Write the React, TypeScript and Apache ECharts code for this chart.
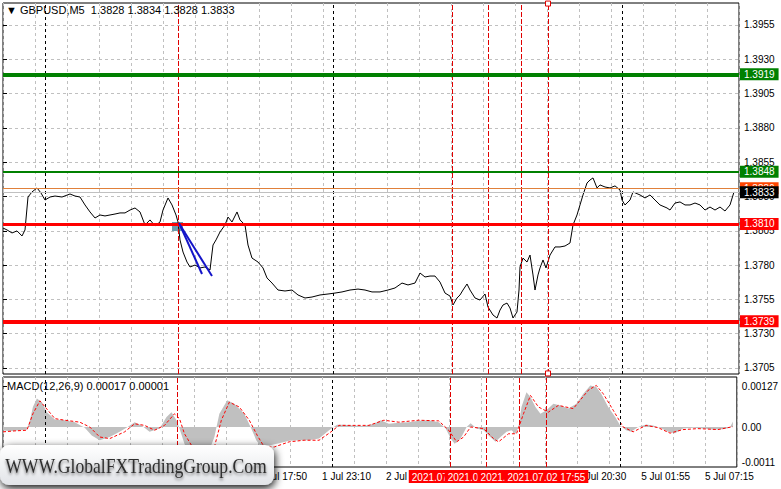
import React, { useEffect, useRef } from "react";
import * as echarts from "echarts";

const symbolTitle = "▼ GBPUSD,M5  1.3828 1.3834 1.3828 1.3833";
const macdTitle = "MACD(12,26,9) 0.00017 0.00001";
const watermarkText = "WWW.GlobalFXTradingGroup.Com";

const priceTicks = [1.3705, 1.373, 1.3755, 1.378, 1.3805, 1.383, 1.3855, 1.388, 1.3905, 1.393, 1.3955];
const macdTicks = [-0.0011, 0, 0.00127];
const macdTickLabels = ["-0.0011", "0.00", "0.00127"];
// one label every 64 M5 bars, starting at bar 0
const timeTickLabels = [
  "30 Jun 20:30", "1 Jul 01:50", "1 Jul 07:10", "1 Jul 12:30", "1 Jul 17:50", "1 Jul 23:10",
  "2 Jul 04:30", "2 Jul 09:50", "2 Jul 15:10", "2 Jul 20:30", "5 Jul 01:55", "5 Jul 07:15",
];

const firstBar = 0;
const lastBar = 736;
const priceMin = 1.37006;
const priceMax = 1.3971;
const levelPrices = [1.3919, 1.3848, 1.3836, 1.3833, 1.381, 1.3739];
const daySeparatorBars = [42, 330, 619];
const redLineBars = [175, 449, 485, 518, 545];
const redLineLabels = ["2021.07.01 11:05", "2021.07.02 09:55", "2021.07.02 12:55", "2021.07.02 15:40", "2021.07.02 17:55"];
const selectedLineBar = 545;
const trendLines: [number, number][][] = [
  [[176, 1.38107], [199, 1.37735]],
  [[177, 1.38092], [209, 1.3772]],
];
const markedZone: [number, number][] = [[169, 1.38114], [180, 1.38048]];

// [bar index, close]
const price: [number, number][] = [
  [0,1.3807],[4,1.38056],[9,1.38034],[14,1.38049],[19,1.38012],[22,1.38056],[25,1.38296],[29,1.38333],[34,1.38362],[38,1.38325],
  [42,1.38274],[47,1.38296],[52,1.38303],[59,1.38296],[67,1.38318],[72,1.38303],[77,1.38296],[82,1.38238],[87,1.38187],[92,1.38143],
  [97,1.38165],[102,1.38158],[107,1.38165],[112,1.38172],[117,1.3818],[122,1.3818],[127,1.38201],[132,1.38216],[137,1.38187],[142,1.38092],
  [147,1.38129],[152,1.38085],[157,1.38114],[160,1.38201],[165,1.38289],[169,1.38238],[173,1.38165],[175,1.38114],[177,1.37983],[180,1.37895],
  [184,1.37822],[187,1.37786],[192,1.378],[197,1.37779],[202,1.37786],[207,1.37764],[210,1.37946],[213,1.37983],[217,1.38041],[222,1.38092],
  [225,1.3815],[229,1.38114],[234,1.38187],[237,1.38129],[242,1.38092],[245,1.37946],[249,1.37851],[255,1.37822],[260,1.37779],[264,1.37706],
  [269,1.37669],[275,1.37618],[282,1.37611],[289,1.37618],[295,1.37582],[302,1.3756],[309,1.37567],[317,1.37582],[325,1.37589],[332,1.37596],
  [339,1.37604],[347,1.37618],[355,1.37625],[362,1.37618],[369,1.37604],[377,1.37604],[385,1.37618],[392,1.37633],[399,1.37669],[405,1.37655],
  [412,1.37669],[417,1.37742],[422,1.37713],[427,1.3772],[432,1.3772],[437,1.37676],[442,1.37596],[447,1.37574],[450,1.37509],[454,1.3756],
  [457,1.37582],[460,1.37618],[464,1.37662],[467,1.37618],[472,1.3756],[477,1.37545],[482,1.37589],[485,1.37494],[490,1.37436],[494,1.37414],
  [497,1.37472],[500,1.37509],[504,1.37523],[507,1.37487],[510,1.37414],[514,1.37458],[516,1.37618],[517,1.37786],[520,1.37851],[524,1.37822],
  [527,1.37873],[530,1.37728],[532,1.37618],[535,1.37728],[537,1.37779],[540,1.37837],[543,1.37779],[547,1.37873],[552,1.37932],[557,1.37932],
  [562,1.37939],[567,1.37961],[570,1.38092],[574,1.38165],[577,1.38238],[580,1.38311],[584,1.38398],[587,1.3842],[590,1.38435],[594,1.38362],
  [597,1.38384],[602,1.38369],[607,1.38362],[612,1.38377],[617,1.38347],[619,1.38274],[622,1.38238],[627,1.38274],[630,1.38333],[637,1.38311],
  [642,1.38289],[647,1.38311],[652,1.38274],[657,1.38238],[664,1.38216],[667,1.38201],[672,1.38252],[677,1.3826],[682,1.38238],[687,1.38238],
  [692,1.38252],[697,1.38238],[702,1.38201],[707,1.38223],[712,1.38201],[717,1.38223],[722,1.38194],[727,1.38238],[731,1.38333],
];

const macdMain: [number, number][] = [
  [0,-0.0001],[7,-0.00013],[17,-0.0001],[24,-0.00008],[27,0.00021],[30,0.00062],[34,0.00088],[39,0.00077],[44,0.00046],[52,0.00023],
  [62,0.00021],[72,0.00015],[82,-0.00002],[89,-0.00026],[97,-0.00041],[107,-0.00031],[117,-0.00015],[125,0],[132,0.00015],[139,0.00005],
  [147,-0.00015],[157,-0.00005],[164,0.00031],[169,0.00046],[174,0.00021],[177,-0.00005],[182,-0.00052],[187,-0.00093],[197,-0.00103],[207,-0.00072],
  [212,-0.00031],[217,0.00041],[225,0.00083],[232,0.00072],[242,0.00041],[249,-0.00005],[254,-0.00041],[259,-0.00062],[267,-0.00057],[277,-0.0005],
  [287,-0.00043],[297,-0.00041],[307,-0.00041],[317,-0.00036],[327,-0.0001],[335,0.00007],[342,0.00007],[352,0.00005],[362,0.00003],[372,0.0001],
  [379,0.00021],[387,0.0001],[397,0.00013],[407,0.00015],[417,0.00019],[427,0.00021],[437,0.00015],[444,-0.00005],[449,-0.00036],[453,-0.00052],
  [459,-0.00036],[465,0],[469,0.00012],[475,-0.00005],[482,-0.0001],[487,-0.00026],[494,-0.00046],[499,-0.00031],[505,-0.00015],[510,-0.0001],
  [514,-0.00021],[517,0],[520,0.00062],[525,0.00108],[529,0.00093],[534,0.00062],[539,0.00041],[545,0.00052],[552,0.00072],[559,0.00067],
  [567,0.00057],[575,0.00072],[582,0.00103],[589,0.00129],[595,0.00124],[600,0.00103],[607,0.00062],[614,0.00031],[619,0.00005],[625,-0.0001],
  [630,-0.00015],[637,0],[645,0.00008],[652,0.00005],[659,-0.00002],[667,-0.00015],[674,-0.00019],[682,-0.00005],[692,-0.00002],[702,-0.00005],
  [712,-0.00008],[722,-0.00007],[729,-0.00002],[732,0.00017],
];

const macdSignal: [number, number][] = [
  [0,-0.00015],[12,-0.00012],[24,-0.0001],[30,0.00041],[37,0.00081],[45,0.00052],[52,0.00026],[62,0.00021],[77,0.00015],[87,0],
  [97,-0.00031],[107,-0.00036],[122,-0.00015],[132,0.0001],[142,0.00005],[152,-0.0001],[162,0.00005],[172,0.00041],[177,0.00026],[182,-0.00021],
  [192,-0.00072],[202,-0.00093],[212,-0.00062],[219,0.00021],[227,0.00077],[237,0.00062],[247,0.00021],[255,-0.00026],[262,-0.00062],[272,-0.00062],
  [287,-0.00046],[302,-0.00041],[317,-0.00041],[329,-0.00015],[337,0.00005],[352,0.00005],[367,0.00005],[382,0.00021],[397,0.00015],[417,0.00021],
  [437,0.00019],[447,-0.0001],[455,-0.00046],[462,-0.00031],[469,0],[482,-0.00005],[492,-0.00036],[497,-0.00046],[507,-0.00021],[515,-0.00021],
  [522,0.00041],[529,0.00098],[537,0.00062],[547,0.00046],[557,0.00067],[572,0.00057],[587,0.00114],[595,0.00129],[602,0.00103],[612,0.00052],
  [622,0],[632,-0.00015],[645,0.00005],[657,-0.00002],[669,-0.00019],[682,-0.00008],[697,-0.00005],[717,-0.00008],[732,0.00001],
];

const FONT = "Liberation Sans";

const levelStyles = [
  { color: "#008000", width: 4, bg: "#008000", fg: "#ffffff" },
  { color: "#008000", width: 2, bg: "#008000", fg: "#ffffff" },
  { color: "#e0803a", width: 1, bg: "#ff4500", fg: "#ffffff" },
  { color: "#c0c0c0", width: 1, bg: "#000000", fg: "#ffffff" },
  { color: "#ff0000", width: 3, bg: "#ff0000", fg: "#ffffff" },
  { color: "#ff0000", width: 4, bg: "#ff0000", fg: "#ffffff" },
];

function buildOption() {
  const gridLine = { color: "#c0c0c0", type: [3, 3] as number[], width: 1 };
  const verticalMarks = (withLabels: boolean) => [
    ...daySeparatorBars.map((b) => ({
      xAxis: b,
      lineStyle: { color: "#000000", type: [3, 3], width: 1 },
      label: { show: false },
    })),
    ...redLineBars.map((b, i) => ({
      xAxis: b,
      lineStyle: { color: "#e00000", type: [5, 2], width: 1 },
      label: withLabels
        ? {
            show: true,
            position: "start",
            distance: 3,
            formatter: redLineLabels[i],
            backgroundColor: "#ff0000",
            color: "#ffffff",
            padding: [2, 3, 1, 3],
            fontSize: 10,
            fontFamily: FONT,
          }
        : { show: false },
    })),
  ];

  const xAxisBase = (gridIndex: number) => ({
    type: "value",
    gridIndex,
    min: firstBar,
    max: lastBar,
    interval: 32,
    axisLine: { show: false },
    axisTick: { show: false },
    splitLine: { show: true, lineStyle: gridLine },
    axisLabel:
      gridIndex === 0
        ? { show: false }
        : {
            show: true,
            formatter: (v: number) => (v % 64 === 0 ? timeTickLabels[v / 64] ?? "" : ""),
            align: "left",
            margin: 4,
            fontSize: 10,
            fontFamily: FONT,
            color: "#000000",
          },
  });

  return {
    animation: false,
    backgroundColor: "#ffffff",
    title: [
      { text: symbolTitle, left: 6, top: 4, padding: 0, textStyle: { fontSize: 11, fontWeight: "normal", color: "#000", fontFamily: FONT } },
      { text: macdTitle, left: 7, top: 380, padding: 0, textStyle: { fontSize: 11, fontWeight: "normal", color: "#000", fontFamily: FONT } },
    ],
    grid: [
      { left: 3, top: 3, width: 736, height: 371, show: true, borderColor: "#000", borderWidth: 1, backgroundColor: "#fff" },
      { left: 3, top: 377, width: 736, height: 90, show: true, borderColor: "#000", borderWidth: 1, backgroundColor: "#fff" },
    ],
    xAxis: [xAxisBase(0), xAxisBase(1)],
    yAxis: [
      {
        type: "value",
        gridIndex: 0,
        position: "right",
        min: priceMin,
        max: priceMax,
        axisLine: { show: false },
        axisTick: { show: true, length: 4, customValues: priceTicks, lineStyle: { color: "#000" } },
        axisLabel: { customValues: priceTicks, formatter: (v: number) => v.toFixed(4), margin: 5, fontSize: 10, fontFamily: FONT, color: "#000" },
        splitLine: { show: true, lineStyle: gridLine },
      },
      {
        type: "value",
        gridIndex: 1,
        position: "right",
        min: -0.00124,
        max: 0.00155,
        axisLine: { show: false },
        axisTick: { show: true, length: 4, customValues: macdTicks, lineStyle: { color: "#000" } },
        axisLabel: {
          customValues: macdTicks,
          formatter: (v: number) => {
            let best = 0;
            macdTicks.forEach((t, i) => {
              if (Math.abs(t - v) < Math.abs(macdTicks[best] - v)) best = i;
            });
            return macdTickLabels[best];
          },
          margin: 5,
          fontSize: 10,
          fontFamily: FONT,
          color: "#000",
        },
        splitLine: { show: false },
      },
    ],
    series: [
      {
        name: "GBPUSD",
        type: "line",
        xAxisIndex: 0,
        yAxisIndex: 0,
        data: price,
        showSymbol: false,
        lineStyle: { color: "#000000", width: 1 },
        z: 3,
        markArea: {
          silent: true,
          itemStyle: { color: "rgba(80,140,160,0.85)" },
          data: [[{ coord: markedZone[0] }, { coord: markedZone[1] }]],
        },
        markPoint: {
          silent: true,
          symbol: "rect",
          symbolSize: 5,
          itemStyle: { color: "#ffffff", borderColor: "#e00000", borderWidth: 1 },
          label: { show: false },
          data: [
            { coord: [selectedLineBar, priceMax - 0.00004] },
            { coord: [selectedLineBar, priceMin + 0.00004] },
          ],
        },
        markLine: {
          silent: true,
          symbol: "none",
          animation: false,
          data: [
            ...verticalMarks(false),
            ...levelPrices.map((p, i) => [
              {
                coord: [firstBar, p],
                lineStyle: { color: levelStyles[i].color, width: levelStyles[i].width, type: "solid" },
                label: {
                  show: true,
                  position: "end",
                  distance: 1,
                  formatter: p.toFixed(4),
                  backgroundColor: levelStyles[i].bg,
                  color: levelStyles[i].fg,
                  padding: [1, 4, 0, 4],
                  fontSize: 10,
                  lineHeight: 11,
                  fontFamily: FONT,
                },
              },
              { coord: [lastBar, p] },
            ]),
            ...trendLines.map((t) => [
              { coord: t[0], lineStyle: { color: "#1414c8", width: 2, type: "solid" }, label: { show: false } },
              { coord: t[1] },
            ]),
          ],
        },
      },
      {
        name: "MACD",
        type: "line",
        xAxisIndex: 1,
        yAxisIndex: 1,
        data: macdMain,
        showSymbol: false,
        lineStyle: { width: 0, color: "#c0c0c0" },
        areaStyle: { color: "#c0c0c0", opacity: 1 },
        markLine: {
          silent: true,
          symbol: "none",
          animation: false,
          data: verticalMarks(true),
        },
      },
      {
        name: "Signal",
        type: "line",
        xAxisIndex: 1,
        yAxisIndex: 1,
        data: macdSignal,
        showSymbol: false,
        lineStyle: { color: "#ff0000", width: 1, type: [3, 2] },
        z: 4,
      },
    ],
    graphic: [
      {
        type: "rect",
        left: 0,
        top: 445,
        z: 100,
        shape: { width: 274, height: 40, r: 9 },
        style: {
          fill: new echarts.graphic.LinearGradient(0, 0, 0, 1, [
            { offset: 0, color: "#ffffff" },
            { offset: 1, color: "#e2e4e8" },
          ]),
          shadowBlur: 8,
          shadowOffsetX: 1,
          shadowOffsetY: 3,
          shadowColor: "rgba(0,0,0,0.95)",
        },
      },
      {
        type: "text",
        x: 136,
        y: 465,
        z: 101,
        scaleX: 0.8,
        style: {
          text: watermarkText,
          fontFamily: "Liberation Serif",
          fontSize: 22,
          fill: "#2e2e2e",
          align: "center",
          verticalAlign: "middle",
          textShadowBlur: 3,
          textShadowOffsetY: 2,
          textShadowColor: "rgba(0,0,0,0.55)",
        },
      },
    ],
  };
}

export default function App() {
  const ref = useRef<HTMLDivElement>(null);
  useEffect(() => {
    if (!ref.current) return;
    const chart = echarts.init(ref.current, null, { renderer: "svg" });
    chart.setOption(buildOption() as any);
    return () => chart.dispose();
  }, []);
  return (
    <div
      ref={ref}
      style={{ position: "fixed", left: 0, top: 0, width: 781, height: 489, background: "#fff" }}
    />
  );
}
